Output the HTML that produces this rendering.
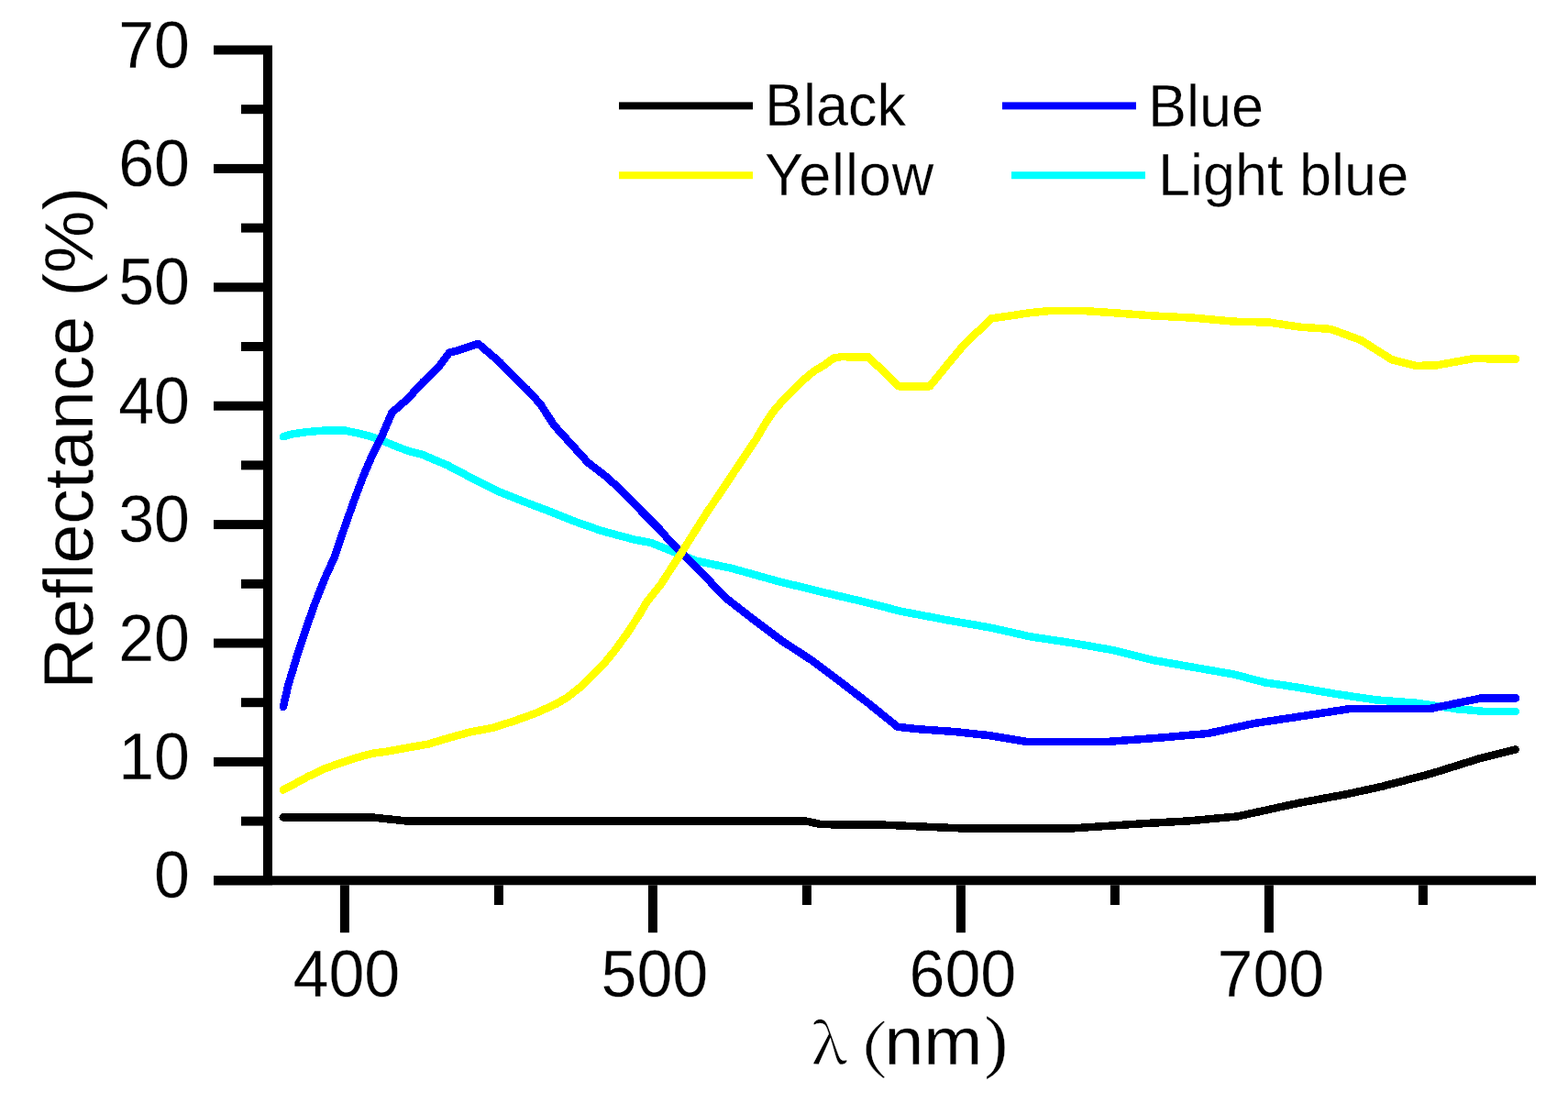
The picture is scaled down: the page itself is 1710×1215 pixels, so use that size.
<!DOCTYPE html>
<html><head><meta charset="utf-8"><title>Reflectance spectra</title>
<style>
html,body{margin:0;padding:0;background:#fff;}
body{width:1710px;height:1215px;overflow:hidden;}
svg{display:block;}
text{font-family:"Liberation Sans",Arial,sans-serif;fill:#000;stroke:#fff;stroke-width:0.3px;}
.tk{font-size:70px;}
.at{font-size:76px;}
.yt{font-size:77px;}
.lg{font-size:63px;}
.sf{font-family:"Liberation Serif","Times New Roman",serif;}
.cj{font-family:"Noto Serif CJK SC","Liberation Serif",serif;}
</style></head>
<body>
<svg width="1710" height="1215" viewBox="0 0 1710 1215"><rect x="287" y="49.5" width="10" height="915.8" fill="#000"/>
<rect x="233" y="955.3" width="1442" height="10.0" fill="#000"/>
<rect x="233" y="955.3" width="54" height="10" fill="#000"/>
<rect x="263" y="890.6" width="24" height="10" fill="#000"/>
<rect x="233" y="825.9" width="54" height="10" fill="#000"/>
<rect x="263" y="761.2" width="24" height="10" fill="#000"/>
<rect x="233" y="696.5" width="54" height="10" fill="#000"/>
<rect x="263" y="631.8" width="24" height="10" fill="#000"/>
<rect x="233" y="567.1" width="54" height="10" fill="#000"/>
<rect x="263" y="502.4" width="24" height="10" fill="#000"/>
<rect x="233" y="437.7" width="54" height="10" fill="#000"/>
<rect x="263" y="373.0" width="24" height="10" fill="#000"/>
<rect x="233" y="308.3" width="54" height="10" fill="#000"/>
<rect x="263" y="243.6" width="24" height="10" fill="#000"/>
<rect x="233" y="178.9" width="54" height="10" fill="#000"/>
<rect x="263" y="114.2" width="24" height="10" fill="#000"/>
<rect x="233" y="49.5" width="54" height="10" fill="#000"/>
<rect x="370.9" y="965.3" width="10" height="51.9" fill="#000"/>
<rect x="538.9" y="965.3" width="10" height="21.7" fill="#000"/>
<rect x="706.9" y="965.3" width="10" height="51.9" fill="#000"/>
<rect x="874.9" y="965.3" width="10" height="21.7" fill="#000"/>
<rect x="1042.9" y="965.3" width="10" height="51.9" fill="#000"/>
<rect x="1210.9" y="965.3" width="10" height="21.7" fill="#000"/>
<rect x="1378.9" y="965.3" width="10" height="51.9" fill="#000"/>
<rect x="1546.9" y="965.3" width="10" height="21.7" fill="#000"/>
<text transform="translate(207,979.3) scale(1,1.03)" class="tk" text-anchor="end">0</text>
<text transform="translate(207,849.9) scale(1,1.03)" class="tk" text-anchor="end">10</text>
<text transform="translate(207,720.5) scale(1,1.03)" class="tk" text-anchor="end">20</text>
<text transform="translate(207,591.1) scale(1,1.03)" class="tk" text-anchor="end">30</text>
<text transform="translate(207,461.7) scale(1,1.03)" class="tk" text-anchor="end">40</text>
<text transform="translate(207,332.3) scale(1,1.03)" class="tk" text-anchor="end">50</text>
<text transform="translate(207,202.9) scale(1,1.03)" class="tk" text-anchor="end">60</text>
<text transform="translate(207,73.5) scale(1,1.03)" class="tk" text-anchor="end">70</text>
<text transform="translate(377.9,1086.8) scale(1,1.03)" class="tk" text-anchor="middle">400</text>
<text transform="translate(713.9,1086.8) scale(1,1.03)" class="tk" text-anchor="middle">500</text>
<text transform="translate(1049.9,1086.8) scale(1,1.03)" class="tk" text-anchor="middle">600</text>
<text transform="translate(1385.9,1086.8) scale(1,1.03)" class="tk" text-anchor="middle">700</text>
<text class="yt" transform="translate(101,751.5) rotate(-90) scale(1,0.98)">Reflectance (%)</text>
<text class="cj" style="font-size:60.2px" transform="translate(885.4,1160.1) scale(1.083,1)">λ</text>
<text class="cj" style="font-size:60.5px" transform="translate(936.5,1162.9) scale(1.41,1)">(</text>
<text style="font-size:77px" transform="translate(964.4,1160.7) scale(1,0.955)">nm</text>
<text class="sf" style="font-size:77px" x="1073.4" y="1161">)</text>
<rect x="675" y="111.4" width="146" height="8" fill="#000"/>
<rect x="675" y="187.2" width="146" height="8" fill="#ffff00"/>
<rect x="1093" y="111.4" width="146" height="8" fill="#0000ff"/>
<rect x="1103" y="187.2" width="146" height="8" fill="#00ffff"/>
<text class="lg" transform="translate(834,137) scale(1,1.03)">Black</text>
<text class="lg" transform="translate(834,213) scale(1,1.03)" letter-spacing="0.9">Yellow</text>
<text class="lg" transform="translate(1252,137.5) scale(1,1.03)">Blue</text>
<text class="lg" transform="translate(1263,212.5) scale(1,1.03)">Light blue</text>
<g shape-rendering="crispEdges"><polyline points="308.7,891.4 405.0,891.4 443.0,895.4 878.0,895.4 896.0,899.2 962.0,899.6 1048.0,903.4 1170.0,903.4 1250.0,898.0 1295.0,895.5 1349.0,890.5 1415.6,876.0 1468.0,866.3 1507.0,857.8 1561.0,843.7 1614.8,826.9 1652.7,817.5" fill="none" stroke="#000" stroke-width="8.5" stroke-linejoin="round" stroke-linecap="round"/>
<polyline points="308.8,476.2 319.0,473.4 333.0,471.3 354.0,469.5 375.0,469.3 389.4,472.3 404.0,475.8 419.3,481.5 434.1,487.8 448.9,493.0 460.0,495.6 488.1,507.5 516.1,522.3 544.2,536.3 572.3,547.5 600.4,558.1 628.4,569.3 656.5,579.1 691.6,588.5 709.6,591.9 729.4,599.8 759.0,611.6 798.5,620.0 846.0,633.3 892.0,644.7 938.0,655.4 983.0,666.8 1035.0,676.7 1079.4,684.4 1123.9,694.4 1168.3,701.1 1212.8,708.9 1257.2,720.0 1301.7,727.8 1346.1,735.6 1379.4,744.4 1412.8,749.3 1455.6,756.7 1500.0,763.3 1544.4,766.7 1588.9,773.3 1620.0,776.0 1652.9,776.0" fill="none" stroke="#00ffff" stroke-width="8.5" stroke-linejoin="round" stroke-linecap="round"/>
<polyline points="308.9,771.0 314.1,748.1 323.0,718.5 332.6,688.9 343.0,659.3 354.8,629.6 364.7,607.8 374.8,578.1 385.2,548.5 396.3,518.9 405.9,496.7 417.0,474.4 427.4,450.0 444.7,434.9 461.2,416.8 477.6,401.2 490.0,384.7 502.3,381.4 518.8,375.6 522.0,375.3 544.8,394.8 574.4,424.4 589.3,440.7 604.1,463.7 618.9,480.0 641.1,504.4 663.3,521.5 685.6,543.0 699.8,557.8 719.5,577.5 729.0,588.5 740.6,600.0 755.2,614.3 791.3,652.0 822.5,676.3 853.8,699.7 885.1,720.1 916.3,743.5 947.6,767.5 978.9,792.8 1000.0,795.1 1042.8,798.2 1079.4,802.2 1119.4,808.9 1208.3,808.9 1268.3,804.4 1317.2,800.0 1368.3,788.9 1412.8,782.2 1455.6,775.6 1473.3,772.9 1560.0,772.9 1615.6,761.4 1652.9,761.4" fill="none" stroke="#0000ff" stroke-width="8.5" stroke-linejoin="round" stroke-linecap="round"/>
<polyline points="308.8,861.5 317.5,857.0 335.1,847.4 352.6,839.0 370.2,832.5 387.7,826.8 405.3,821.9 422.8,819.5 440.4,816.2 466.8,811.6 490.2,804.6 513.6,798.2 537.0,793.9 560.4,786.5 583.7,778.1 607.1,767.5 618.8,760.5 634.3,748.3 657.2,725.7 670.7,709.2 684.9,689.5 697.7,669.7 705.3,656.6 721.0,637.0 728.9,624.7 737.0,612.3 742.4,604.1 756.0,582.5 770.9,559.0 787.4,534.7 801.0,514.1 814.4,494.3 824.3,479.5 832.9,464.7 842.5,449.9 848.7,442.5 855.4,435.1 866.1,424.1 876.8,414.0 887.5,404.9 898.2,398.7 908.9,390.7 916.9,389.2 947.2,389.5 980.0,421.3 1014.0,421.3 1034.1,396.6 1050.0,377.5 1065.0,363.0 1081.0,347.3 1101.7,344.4 1123.9,341.1 1146.1,338.9 1179.4,338.9 1212.8,341.1 1257.2,344.4 1301.7,346.7 1346.1,350.7 1384.4,351.6 1417.8,356.7 1451.1,358.9 1484.4,371.1 1517.8,392.2 1544.4,398.9 1566.7,398.4 1606.7,391.1 1652.9,391.6" fill="none" stroke="#ffff00" stroke-width="8.5" stroke-linejoin="round" stroke-linecap="round"/></g></svg>
</body></html>
